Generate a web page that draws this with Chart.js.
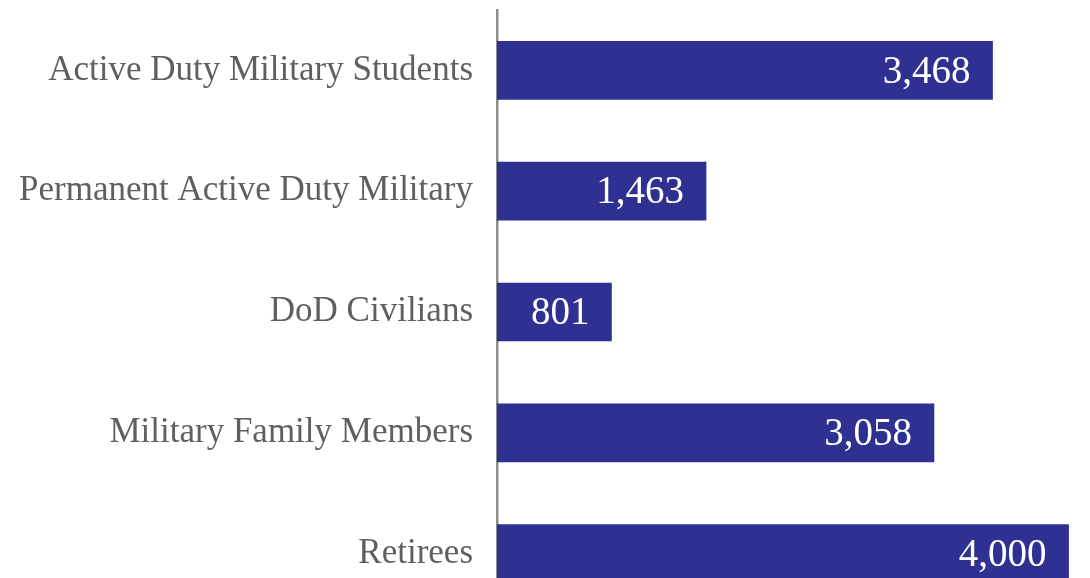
<!DOCTYPE html>
<html>
<head>
<meta charset="utf-8">
<script src="https://cdn.jsdelivr.net/npm/chart.js@4.4.1/dist/chart.umd.min.js"></script>
<style>
  html, body { margin: 0; padding: 0; background: #fff; overflow: hidden; }
  #wrap { width: 1090px; height: 614px; }
</style>
</head>
<body>
<div id="wrap"><canvas id="groupChart"></canvas></div>
<script>
// Population groups (horizontal bars)
const groups = [
  "Active Duty Military Students",
  "Permanent Active Duty Military",
  "DoD Civilians",
  "Military Family Members",
  "Retirees",
];
const counts = [3468, 1463, 801, 3058, 4000];

const barColor = "#2e3192";
const labelFont = "'Liberation Serif', 'Times New Roman', serif";

const chartCanvas = document.getElementById("groupChart");

new Chart(chartCanvas, {
  type: "bar",
  data: {
    labels: groups,
    datasets: [
      {
        label: "Count",
        data: counts,
        backgroundColor: barColor,
        borderWidth: 0,
        barThickness: 58,
      },
    ],
  },
  options: {
    indexAxis: "y",
    responsive: true,
    maintainAspectRatio: false,
    animation: false,
    layout: {
      padding: { top: 10, right: 0, bottom: 0, left: 0 },
    },
    plugins: {
      legend: { display: false },
      tooltip: { enabled: false },
    },
    scales: {
      x: {
        display: false,
        min: 0,
        max: 4150,
      },
      y: {
        grid: { display: false, drawTicks: false },
        border: { display: true, color: "#8c8c8c", width: 2.5 },
        ticks: {
          color: "#5f5f5f",
          padding: 24,
          font: { family: labelFont, size: 35 },
        },
        afterFit(scale) {
          // keep the axis at a fixed spot and let the plot fill the height
          scale.width = 497;
          scale.paddingTop = 0;
          scale.paddingBottom = 0;
        },
      },
    },
  },
  plugins: [
    {
      afterDatasetsDraw(chart) {
        const ctx = chart.ctx;
        ctx.save();
        chart.data.datasets[0].data.forEach((value, index) => {
          const { x, y } = chart
            .getDatasetMeta(0)
            .data[index].getProps(["x", "y"]);
          ctx.font = "39px " + labelFont;
          ctx.textAlign = "right";
          ctx.textBaseline = "middle";
          ctx.fillStyle = "#ffffff";
          ctx.fillText(value.toLocaleString("en-US"), x - 22, y + 2);
        });
        ctx.restore();
      },
    },
  ],
});
</script>
</body>
</html>
